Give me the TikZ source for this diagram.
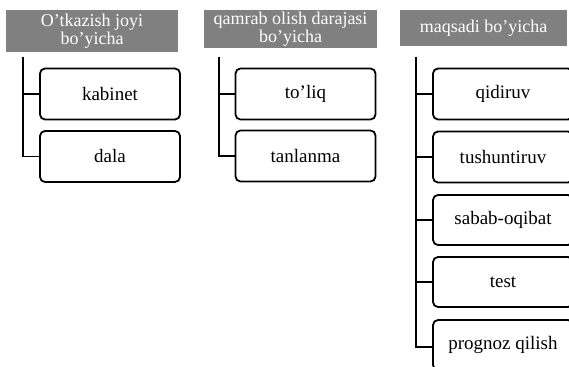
\documentclass[tikz,border=0pt]{standalone}
\usepackage{fontspec}
\setmainfont{Liberation Serif}
\usetikzlibrary{positioning}

\begin{document}
\begin{tikzpicture}[x=1pt,y=1pt,
	turbox/.style={draw,line width=1.8pt,rounded corners=5pt,minimum width=140pt,minimum height=51pt,inner sep=0pt,font=\fontsize{19}{20}\selectfont},
	sarlavha/.style={fill=black!50,text=white,inner sep=0pt,align=center,font=\fontsize{18}{18.5}\selectfont},
	chiziq/.style={line width=1.8pt}
	]
	\useasboundingbox (0,0) rectangle (569,366);
	% sarlavhalar
	\node[sarlavha,minimum width=172pt,minimum height=42pt] (h1) at (92,335) {O'tkazish joyi\\bo'yicha};
	\node[sarlavha,minimum width=173pt,minimum height=38pt] (h2) at (290.5,337) {qamrab olish darajasi\\bo'yicha};
	\node[sarlavha,minimum width=167pt,minimum height=36pt] (h3) at (483.5,338) {maqsadi bo'yicha};
	\coordinate (c1) at (23,309);
	\coordinate (c2) at (219,309);
	\coordinate (c3) at (416,309);
	% 1-ustun
	\node[turbox] (kabinet) at (110,272) {kabinet};
	\node[turbox] (dala) at (110,209.5) {dala};
	% 2-ustun
	\node[turbox] (toliq) at (305.5,272) {to'liq};
	\node[turbox] (tanlanma) at (305.5,210) {tanlanma};
	% 3-ustun
	\node[turbox] (qidiruv) at (503,272) {qidiruv};
	\node[turbox] (tushuntiruv) at (503,209) {tushuntiruv};
	\node[turbox,minimum height=50pt] (sabab) at (503,146) {sabab-oqibat};
	\node[turbox,minimum height=50pt] (test) at (503,84) {test};
	\node[turbox,minimum height=50pt] (prognoz) at (503,21) {prognoz qilish};
	% chiziqlar
	\foreach \b in {kabinet,dala} \draw[chiziq] (c1) |- (\b.west);
	\foreach \b in {toliq,tanlanma} \draw[chiziq] (c2) |- (\b.west);
	\foreach \b in {qidiruv,tushuntiruv,sabab,test} \draw[chiziq] (c3) |- (\b.west);
	\draw[chiziq] (c3) |- ([yshift=-2pt]prognoz.west);
\end{tikzpicture}
\end{document}
